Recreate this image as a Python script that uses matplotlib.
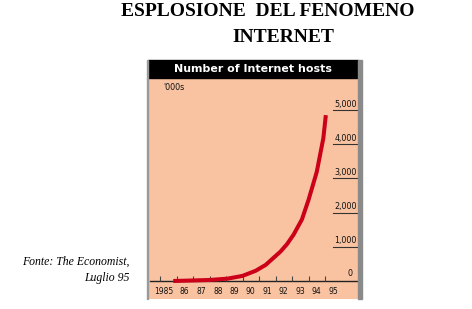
import matplotlib
matplotlib.use('Agg')
import matplotlib.pyplot as plt
from matplotlib.patches import Rectangle

# data (hosts, thousands)
years = [1985.8, 1988.0, 1989.1, 1990.0, 1990.8, 1991.4, 1992.3, 1992.7, 1993.1, 1993.6, 1994.0, 1994.5, 1994.9, 1995.05]
hosts = [0, 30, 70, 150, 300, 470, 860, 1080, 1360, 1800, 2370, 3190, 4180, 4850]
tick_years = list(range(1985, 1996))
tick_labels = ['1985', '86', '87', '88', '89', '90', '91', '92', '93', '94', '95']
y_levels = [1000, 2000, 3000, 4000, 5000]
y_labels = ['1,000', '2,000', '3,000', '4,000', '5,000']

W, H = 472, 309
fig = plt.figure(figsize=(W / 100, H / 100), dpi=100)
fig.patch.set_facecolor('white')

def fx(px):
    return px / W

def fy(py):
    return 1 - py / H

# panel
ax = fig.add_axes([fx(148), fy(299), 210 / W, 221 / H])
ax.set_facecolor('#f9c3a2')
ax.set_xlim(1984.27, 1997.0)
ax.set_ylim(-526, 5936)
for s in ax.spines.values():
    s.set_visible(False)
ax.set_xticks([])
ax.set_yticks([])

# axis line and ticks
ax.axhline(0, xmin=0.01, xmax=1, color='#222222', lw=1)
ax.vlines(tick_years, 0, 140, color='#444444', lw=0.8)

# right side value marks
for v, lab in zip(y_levels, y_labels):
    ax.axhline(v, xmin=0.88, xmax=1, color='#333333', lw=0.8)
    ax.text(0.995, v + 40, lab, transform=ax.get_yaxis_transform(),
            ha='right', va='bottom', fontsize=5.8, color='#111111')
ax.text(0.975, 90, '0', transform=ax.get_yaxis_transform(),
        ha='right', va='bottom', fontsize=5.8, color='#111111')

for yr, lab in zip(tick_years, tick_labels):
    off = 0.2 if lab == '1985' else 0.5
    ax.text(yr + off, -300, lab, ha='center', va='center', fontsize=5.5, color='#111111')

ax.text(0.071, 0.955, "'000s", transform=ax.transAxes, ha='left', va='center',
        fontsize=5.8, color='#111111')

# the curve
ax.plot(years, hosts, color='#cc0018', lw=2.9, solid_capstyle='butt',
        solid_joinstyle='round')

# header bar and frame strips
fig.add_artist(Rectangle((fx(148), fy(78)), 210 / W, 18 / H, color='black',
                         transform=fig.transFigure))
fig.add_artist(Rectangle((fx(358), fy(299)), 4 / W, 239 / H, color='#8a8a8a',
                         transform=fig.transFigure))
fig.add_artist(Rectangle((fx(147), fy(299)), 1 / W, 239 / H, color='#9a9a9a',
                         transform=fig.transFigure))
fig.text(fx(253), fy(69), 'Number of Internet hosts', ha='center', va='center',
         color='white', fontsize=7.9, fontweight='bold')

# title
fig.text(fx(268), fy(15.5), 'ESPLOSIONE  DEL FENOMENO', ha='center', va='baseline',
         family='Liberation Serif', fontweight='bold', fontsize=14)
fig.text(fx(283), fy(42), 'INTERNET', ha='center', va='baseline',
         family='Liberation Serif', fontweight='bold', fontsize=14)

# source
fig.text(fx(130), fy(262), 'Fonte: The Economist,', ha='right', va='center',
         family='Liberation Serif', style='italic', fontsize=8.5)
fig.text(fx(130), fy(277.5), 'Luglio 95', ha='right', va='center',
         family='Liberation Serif', style='italic', fontsize=8.5)

fig.savefig('out.png', dpi=100)
